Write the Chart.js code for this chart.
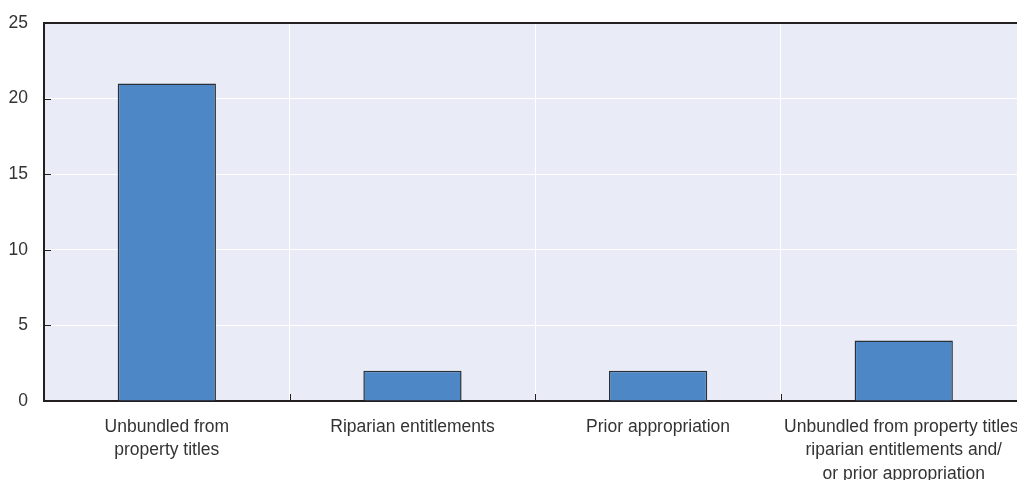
<!DOCTYPE html>
<html>
<head>
<meta charset="utf-8">
<script src="https://cdn.jsdelivr.net/npm/chart.js@4.4.1/dist/chart.umd.min.js"></script>
<style>
  html, body { margin: 0; padding: 0; background: #ffffff; overflow: hidden; }
  #wrap { position: relative; width: 1040px; height: 480px; }
</style>
</head>
<body>
<div id="wrap"><canvas id="chart"></canvas></div>
<script>
const categories = [
  ["Unbundled from", "property titles"],
  "Riparian entitlements",
  "Prior appropriation",
  ["Unbundled from property titles,", "riparian entitlements and/", "or prior appropriation"]
];
const counts = [21, 2, 2, 4];
const yTicks = [0, 5, 10, 15, 20, 25];

const FONT = "'Liberation Sans Narrow', 'Arial Narrow', 'Liberation Sans', sans-serif";
const AXIS_DARK = '#231f20';
const PLOT_BG = '#e9ecf6';

// Plot background and the short inward tick marks on both axes
const plotDecor = {
  id: 'plotDecor',
  beforeDraw(chart) {
    const { ctx, chartArea: a } = chart;
    ctx.save();
    ctx.fillStyle = PLOT_BG;
    ctx.fillRect(a.left, a.top, a.right - a.left, a.bottom - a.top);
    ctx.restore();
  },
  afterDraw(chart) {
    const { ctx, chartArea: a, scales } = chart;
    ctx.save();
    ctx.strokeStyle = AXIS_DARK;
    ctx.lineWidth = 1;
    // y ticks pointing into the plot
    yTicks.forEach(v => {
      if (v === 0 || v === 25) return;
      const y = Math.round(scales.y.getPixelForValue(v)) + 0.5;
      ctx.beginPath();
      ctx.moveTo(a.left, y);
      ctx.lineTo(a.left + 7, y);
      ctx.stroke();
    });
    // x ticks at category boundaries pointing up
    const n = categories.length;
    for (let i = 1; i < n; i++) {
      const x = Math.round((scales.x.getPixelForValue(i - 1) + scales.x.getPixelForValue(i)) / 2) + 0.5;
      ctx.beginPath();
      ctx.moveTo(x, a.bottom);
      ctx.lineTo(x, a.bottom - 7);
      ctx.stroke();
    }
    // top frame line
    ctx.lineWidth = 2;
    ctx.beginPath();
    ctx.moveTo(a.left, a.top);
    ctx.lineTo(a.right, a.top);
    ctx.stroke();
    ctx.restore();
  }
};

new Chart(document.getElementById('chart'), {
  type: 'bar',
  data: {
    labels: categories,
    datasets: [{
      data: counts,
      backgroundColor: '#4e87c6',
      borderColor: '#2b2f38',
      borderWidth: 1.5,
      barPercentage: 0.4,
      categoryPercentage: 1.0
    }]
  },
  options: {
    responsive: true,
    maintainAspectRatio: false,
    animation: false,
    devicePixelRatio: 1,
    layout: { padding: { top: 0, right: 13, left: 0, bottom: 0 } },
    plugins: { legend: { display: false }, tooltip: { enabled: false } },
    scales: {
      x: {
        grid: { color: '#ffffff', lineWidth: 1, drawTicks: false, offset: true },
        border: { color: AXIS_DARK, width: 2 },
        ticks: {
          color: '#333333',
          font: { family: FONT, size: 17.5, lineHeight: 1.32 },
          padding: 15,
          maxRotation: 0,
          autoSkip: false
        },
        afterFit(scale) { scale.height = 79; }
      },
      y: {
        min: 0,
        max: 25,
        grid: { color: '#ffffff', lineWidth: 1, drawTicks: false },
        border: { color: AXIS_DARK, width: 2 },
        ticks: {
          stepSize: 5,
          color: '#333333',
          font: { family: FONT, size: 17.5, lineHeight: 0.8 },
          padding: 16,
          callback: (v) => yTicks.includes(v) ? String(v) : ''
        },
        afterFit(scale) { scale.width = 44; }
      }
    }
  },
  plugins: [plotDecor]
});
</script>
</body>
</html>
